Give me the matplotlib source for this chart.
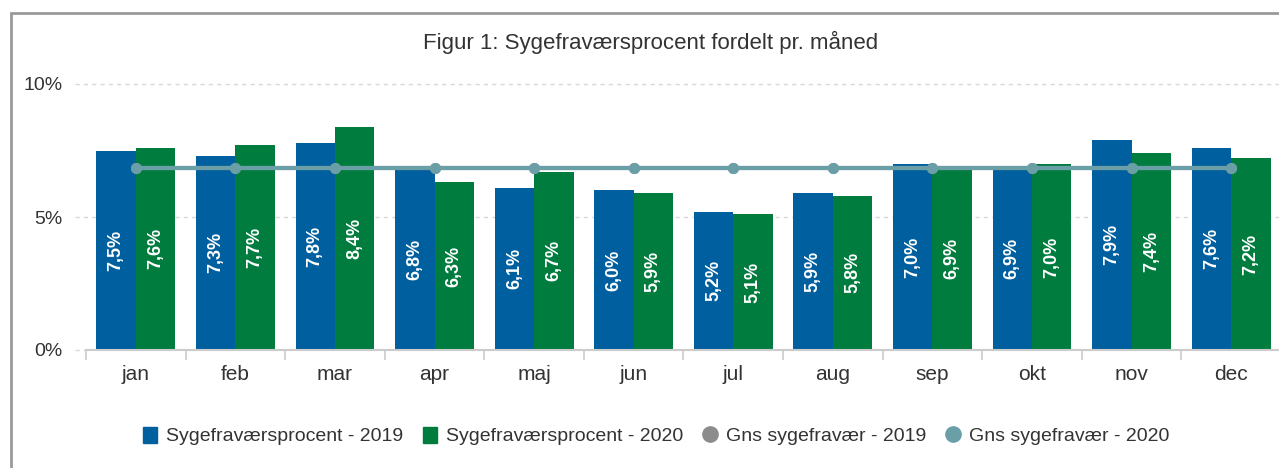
import numpy as np
import matplotlib
matplotlib.use("Agg")
import matplotlib.pyplot as plt
from matplotlib.patches import Rectangle
from matplotlib.lines import Line2D
from matplotlib.patches import Patch

# ========== Data ==========
months = ["jan", "feb", "mar", "apr", "maj", "jun", "jul", "aug", "sep", "okt", "nov", "dec"]
pct_2019 = [7.5, 7.3, 7.8, 6.8, 6.1, 6.0, 5.2, 5.9, 7.0, 6.9, 7.9, 7.6]
pct_2020 = [7.6, 7.7, 8.4, 6.3, 6.7, 5.9, 5.1, 5.8, 6.9, 7.0, 7.4, 7.2]
avg_2019 = 6.84
avg_2020 = 6.84

title = "Figur 1: Sygefraværsprocent fordelt pr. måned"
y_ticks = [0, 5, 10]

# ========== Style ==========
BLUE = "#005f9e"
GREEN = "#007d3e"
GREY_DOT = "#8c8c8c"
TEAL = "#6a9fa8"
TXT = "#333333"
plt.rcParams["font.family"] = ["Liberation Sans", "DejaVu Sans"]

W, H = 1279, 468
fig = plt.figure(figsize=(W / 100, H / 100), dpi=100)

# outer frame (bottom/right run past the image)
fig.patches.append(Rectangle((11 / W, -0.1), 1.2, (H - 13) / H + 0.1,
                             transform=fig.transFigure, fill=False,
                             edgecolor="#9a9a9a", lw=2))

ax = fig.add_axes([86 / W, 118 / H, (1281 - 86) / W, (350 - 84) / H])

x = np.arange(len(months))
bw = 0.396
b1 = ax.bar(x - bw / 2, pct_2019, bw, color=BLUE, zorder=2)
b2 = ax.bar(x + bw / 2, pct_2020, bw, color=GREEN, zorder=2)

for bars, vals in ((b1, pct_2019), (b2, pct_2020)):
    for rect, v in zip(bars, vals):
        ax.text(rect.get_x() + rect.get_width() / 2, v / 2,
                f"{v:.1f}%".replace(".", ","), rotation=90,
                ha="center", va="center", color="white",
                fontsize=13, fontweight="bold", zorder=4)

ax.plot(x, [avg_2019] * len(x), color=GREY_DOT, lw=3, marker="o", ms=7, zorder=3)
ax.plot(x, [avg_2020] * len(x), color=TEAL, lw=3, marker="o", ms=7, zorder=3)

ax.set_xlim(-0.5, len(months) - 0.5)
ax.set_ylim(0, 10)

# dashed grid lines that poke out left of the plot
for t in y_ticks[1:]:
    ax.plot([-11 / 1195, 1], [t / 10, t / 10], transform=ax.transAxes,
            color="#d8d8d8", lw=1, ls=(0, (3, 3)), clip_on=False, zorder=1)
ax.plot([-11 / 1195, 0], [0, 0], transform=ax.transAxes,
        color="#d8d8d8", lw=1, ls=(0, (3, 3)), clip_on=False)

for s in ("top", "right", "left"):
    ax.spines[s].set_visible(False)
ax.spines["bottom"].set_color("#cccccc")
ax.spines["bottom"].set_linewidth(1.5)

ax.set_yticks(y_ticks)
ax.set_yticklabels([f"{t}%" for t in y_ticks], fontsize=14, color=TXT)
ax.tick_params(axis="y", length=0, pad=17)

ax.set_xticks(x)
ax.set_xticklabels(months, fontsize=15, color=TXT)
ax.set_xticks(np.arange(len(months) + 1) - 0.5, minor=True)
ax.tick_params(axis="x", which="major", length=0, pad=11)
ax.tick_params(axis="x", which="minor", length=7, color="#cccccc", width=1.2)

fig.text(651 / W, 1 - 42 / H, title, ha="center", va="center",
         fontsize=16, color=TXT)

handles = [
    Patch(color=BLUE, label="Sygefraværsprocent - 2019"),
    Patch(color=GREEN, label="Sygefraværsprocent - 2020"),
    Line2D([], [], color=GREY_DOT, marker="o", ls="none", ms=11, label="Gns sygefravær - 2019"),
    Line2D([], [], color=TEAL, marker="o", ls="none", ms=11, label="Gns sygefravær - 2020"),
]
fig.legend(handles=handles, loc="center", bbox_to_anchor=(656 / W, 1 - 436 / H),
           ncol=4, frameon=False, fontsize=14, handlelength=0.75, handleheight=0.9,
           handletextpad=0.45, columnspacing=1.0, labelcolor=TXT)

fig.savefig("out.png", dpi=100)
